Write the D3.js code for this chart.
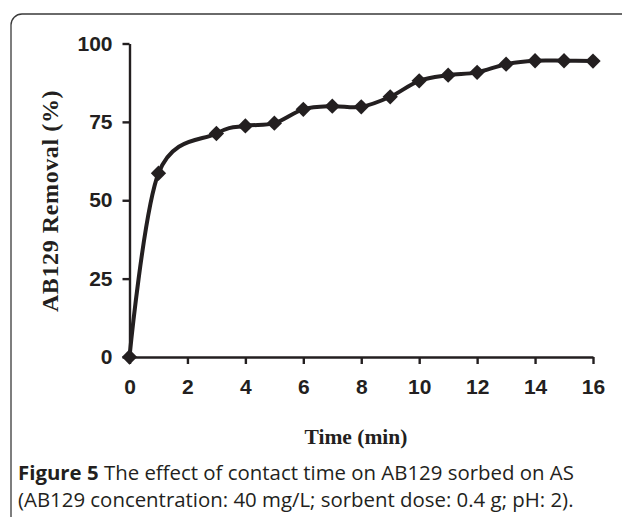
<!DOCTYPE html>
<html>
<head>
<meta charset="utf-8">
<script src="https://cdn.jsdelivr.net/npm/d3@7"></script>
<style>
body { margin: 0; background: #fff; }
svg { display: block; }
</style>
</head>
<body>
<svg id="chart" width="622" height="517"></svg>
<script>
var times = [0, 1, 3, 4, 5, 6, 7, 8, 9, 10, 11, 12, 13, 14, 15, 16];
var removal = [0, 58.6, 71.3, 73.7, 74.6, 79, 80, 79.8, 83, 88.1, 89.9, 90.8, 93.4, 94.5, 94.5, 94.4];
var xTicks = [0, 2, 4, 6, 8, 10, 12, 14, 16];
var yTicks = [0, 25, 50, 75, 100];

var ink = '#231f20';
var svg = d3.select('#chart');

// frame around figure
svg.append('rect')
    .attr('x', 11)
    .attr('y', 14)
    .attr('width', 640)
    .attr('height', 540)
    .attr('rx', 11)
    .style('fill', 'none')
    .style('stroke', '#3a3a3a')
    .style('stroke-width', 1.3);

var x = d3.scaleLinear().domain([0, 16]).range([129.5, 593]);
var y = d3.scaleLinear().domain([0, 100]).range([357, 43.5]);

var xAxis = svg.append('g')
    .attr('transform', 'translate(0,' + y(0) + ')')
    .call(d3.axisBottom(x).tickValues(xTicks).tickSize(7).tickPadding(15).tickSizeOuter(0));

var yAxis = svg.append('g')
    .attr('transform', 'translate(' + x(0) + ',0)')
    .call(d3.axisLeft(y).tickValues(yTicks).tickSize(7).tickPadding(10).tickSizeOuter(0));

[xAxis, yAxis].forEach(function(ax) {
    ax.select('.domain').style('stroke', ink).style('stroke-width', 2.4);
    ax.selectAll('.tick line').style('stroke', ink).style('stroke-width', 2.4);
    ax.selectAll('.tick text')
        .style('fill', ink)
        .style('font-family', 'Liberation Sans, Arial, sans-serif')
        .style('font-weight', 'bold')
        .style('font-size', '21px');
});
xAxis.selectAll('.tick text').attr('dy', '0.71em');

var line = d3.line()
    .x(function(d, i) { return x(times[i]); })
    .y(function(d) { return y(d); })
    .curve(d3.curveCatmullRom.alpha(0));

svg.append('path')
    .datum(removal)
    .attr('d', line)
    .style('fill', 'none')
    .style('stroke', ink)
    .style('stroke-width', 4);

svg.selectAll('.marker')
    .data(removal)
    .enter()
    .append('path')
    .attr('class', 'marker')
    .attr('d', d3.symbol().type(d3.symbolDiamond2).size(150))
    .attr('transform', function(d, i) { return 'translate(' + x(times[i]) + ',' + y(d) + ')'; })
    .style('fill', ink);

svg.append('text')
    .attr('transform', 'translate(58,' + 201 + ') rotate(-90)')
    .attr('text-anchor', 'middle')
    .text('AB129 Removal (%)')
    .style('font-family', 'Liberation Serif, Times New Roman, serif')
    .style('font-weight', 'bold')
    .style('font-size', '24px')
    .style('letter-spacing', '0.6px')
    .style('fill', ink);

svg.append('text')
    .attr('x', 356)
    .attr('y', 444)
    .attr('text-anchor', 'middle')
    .text('Time (min)')
    .style('font-family', 'Liberation Serif, Times New Roman, serif')
    .style('font-weight', 'bold')
    .style('font-size', '21.5px')
    .style('fill', ink);

var caption = svg.append('g')
    .style('font-family', 'Open Sans, Noto Sans, sans-serif')
    .style('font-size', '20.4px')
    .style('fill', ink);

var line1 = caption.append('text').attr('x', 18).attr('y', 480);
line1.append('tspan').style('font-weight', 'bold').text('Figure 5');
line1.append('tspan').text(' The effect of contact time on AB129 sorbed on AS');

caption.append('text')
    .attr('x', 18)
    .attr('y', 507)
    .text('(AB129 concentration: 40 mg/L; sorbent dose: 0.4 g; pH: 2).');
</script>
</body>
</html>
